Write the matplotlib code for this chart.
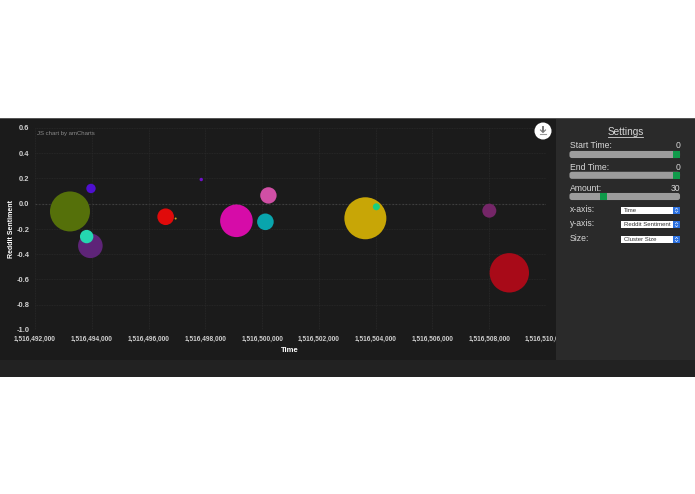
import matplotlib
matplotlib.use("Agg")
import matplotlib.pyplot as plt
from matplotlib.patches import Rectangle, Circle, FancyBboxPatch
from matplotlib.ticker import FuncFormatter

W, H = 695, 494

time = [1516493232, 1516493972, 1516493950, 1516493820, 1516496602, 1516496954, 1516497856,
        1516499095, 1516500222, 1516500116, 1516503637, 1516504025, 1516508003, 1516508708]
sentiment = [-0.061, 0.121, -0.333, -0.26, -0.103, -0.117, 0.192,
             -0.135, 0.066, -0.143, -0.115, -0.024, -0.055, -0.547]
cluster_size = [20, 4.7, 12.3, 6.7, 8.3, 1, 1.7, 16.3, 8.2, 8.3, 21, 3.5, 7, 19.7]
colors = ["#55700a", "#4f0fd0", "#5e2478", "#25d6b0", "#e00a0a", "#d8a020", "#7010c8",
          "#d60ca8", "#d04fa5", "#09a5ad", "#c8a606", "#18d080", "#752668", "#a80a18"]

x_ticks = [1516492000 + 2000 * i for i in range(10)]
y_ticks = [0.6, 0.4, 0.2, 0.0, -0.2, -0.4, -0.6, -0.8, -1.0]

plt.rcParams["font.family"] = "Liberation Sans"
fig = plt.figure(figsize=(W / 100, H / 100), dpi=100, facecolor="white")


def fx(px):
    return px / W


def fy(py):
    return 1 - py / H


def rect(x0, y0, x1, y1, color, z=0):
    fig.add_artist(Rectangle((fx(x0), fy(y1)), (x1 - x0) / W, (y1 - y0) / H,
                             transform=fig.transFigure, color=color, lw=0, zorder=z))


def label(px, py, s, size=6, color="#d8d8d8", **kw):
    fig.text(fx(px), fy(py), s, fontsize=size, color=color, va="center", zorder=5, **kw)


# page background
rect(0, 118, 695, 360, "#1b1b1b", -2)
rect(0, 360, 695, 377, "#222222", -2)
rect(0, 118, 695, 119, "#555555", 1)
rect(556, 119, 695, 360, "#2a2a2a", 1)

# chart
ax = fig.add_axes([fx(35), fy(330), (546 - 35) / W, (330 - 128) / H])
ax.set_facecolor("none")
ax.set_xlim(1516492000, 1516510000)
ax.set_ylim(-1.0, 0.6)
ax.scatter(time, sentiment, s=[(2 * r * 0.72) ** 2 for r in cluster_size], c=colors,
           linewidths=0, zorder=3, clip_on=False)

ax.set_xticks(x_ticks)
ax.set_yticks(y_ticks)
ax.xaxis.set_major_formatter(FuncFormatter(lambda v, p: f"{int(v):,}"))
ax.yaxis.set_major_formatter(FuncFormatter(lambda v, p: f"{v:.1f}"))
ax.grid(True, color="#2a2a2a", lw=0.6, ls=(0, (1, 1)))
ax.axhline(0, color="#4a4a4a", lw=0.8, ls=(0, (1.5, 1.5)), zorder=1)
ax.tick_params(axis="x", length=0, labelsize=4.7, labelcolor="#d0d0d0", pad=4)
ax.tick_params(axis="y", length=0, labelsize=5.4, labelcolor="#d0d0d0", pad=4)
for spine in ax.spines.values():
    spine.set_visible(False)
for t in ax.get_xticklabels() + ax.get_yticklabels():
    t.set_fontweight("bold")

label(290, 351, "Time", size=5.5, color="white", ha="center", fontweight="bold")
fig.text(fx(12), fy(229), "Reddit Sentiment", fontsize=5, color="white", rotation=90,
         ha="center", va="center", fontweight="bold", zorder=5)
label(37, 134, "JS chart by amCharts", size=4.3, color="#8a8a8a")

# overlay axes in pixel units for the button and the settings controls
pxbox = fig.add_axes([0, 0, 1, 1], facecolor="none", zorder=2)
pxbox.set_xlim(0, W)
pxbox.set_ylim(H, 0)
pxbox.axis("off")
pxbox.add_patch(Circle((543, 131), 8.5, color="white", lw=0))
pxbox.plot([543, 543], [127.5, 131], color="#777777", lw=1.4)
pxbox.plot([540.5, 543, 545.5], [130, 132.5, 130], color="#777777", lw=0.8)
pxbox.plot([540, 546], [134.5, 134.5], color="#999999", lw=0.8)

# settings panel
label(625.5, 131.7, "Settings", size=7.2, ha="center", color="#d8d8d8")
pxbox.plot([608, 643], [136.8, 136.8], color="#d8d8d8", lw=0.6)

sliders = [("Start Time:", "0", 145.5, 154.5, 672.7, 680),
           ("End Time:", "0", 167, 175.3, 672.7, 680),
           ("Amount:", "30", 188, 196.5, 600, 607.3)]
for name, val, ty, by, g0, g1 in sliders:
    label(569.5, ty, name, size=6.2)
    label(680.5, ty, val, size=6.2, ha="right")
    pxbox.add_patch(FancyBboxPatch((570.5, by - 2.5), 108.5, 5, boxstyle="round,pad=0,rounding_size=1.5",
                                   fc="#9c9c9c", ec="#9c9c9c", lw=1.5))
    pxbox.add_patch(Rectangle((g0, by - 3.7), g1 - g0, 7.4, color="#0f9a4a", lw=0, zorder=3))

selects = [("x-axis:", "Time", 210.2), ("y-axis:", "Reddit Sentiment", 224.7), ("Size:", "Cluster Size", 239.5)]
for name, val, y in selects:
    label(569.5, y - 1.2, name, size=6.2)
    pxbox.add_patch(Rectangle((620.5, y - 3.6), 59.5, 7.3, color="white", lw=0))
    pxbox.add_patch(Rectangle((673, y - 3.6), 7, 7.3, color="#2a70e0", lw=0))
    pxbox.plot([675.2, 676.5, 677.8], [y - 0.8, y - 2.2, y - 0.8], color="white", lw=0.4)
    pxbox.plot([675.2, 676.5, 677.8], [y + 0.8, y + 2.2, y + 0.8], color="white", lw=0.4)
    label(624, y + 0.2, val, size=4.3, color="#333333")

fig.savefig("out.png", dpi=100, facecolor="white")
